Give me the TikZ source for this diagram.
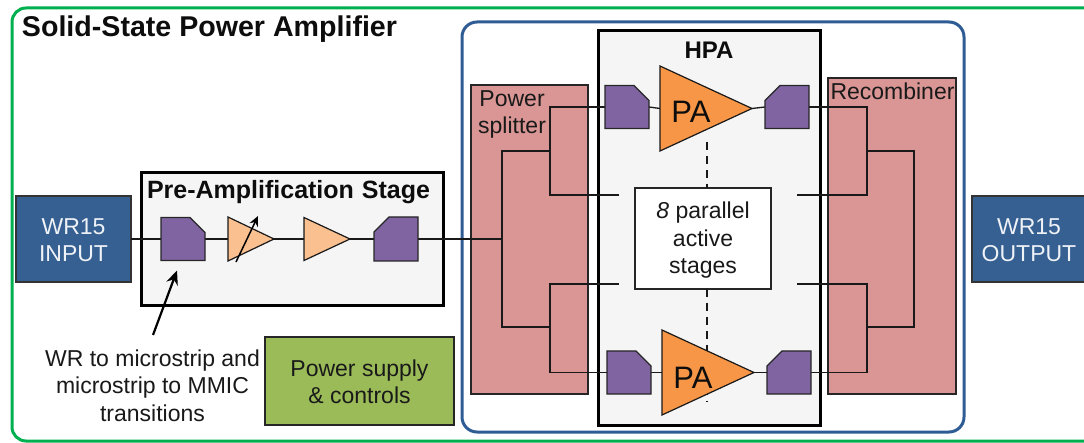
\documentclass[tikz,border=0pt]{standalone}
\usepackage{fontspec}
\setmainfont{Liberation Sans}
\usetikzlibrary{arrows.meta}
\definecolor{wgblue}{HTML}{366092}
\definecolor{framegreen}{HTML}{00B050}
\definecolor{frameblue}{HTML}{2F5C94}
\definecolor{panel}{HTML}{F5F5F5}
\definecolor{pinkbox}{HTML}{D99694}
\definecolor{purp}{HTML}{8064A2}
\definecolor{lightamp}{HTML}{FAC090}
\definecolor{paamp}{HTML}{F79646}
\definecolor{supply}{HTML}{9BBB59}
\tikzset{
  x=1pt,y=-1pt,
  sz/.style 2 args={minimum width=#1pt,minimum height=#2pt,inner sep=0pt,outer sep=0pt,anchor=center},
  wg/.style={draw=black!80,line width=1.2pt,fill=wgblue},
  wgtext/.style={inner sep=0pt,text=white!92!wgblue,align=center,font=\fontsize{23}{27}\selectfont},
  stage/.style={draw=black,line width=3pt,fill=panel},
  pinkb/.style={draw=black!85,line width=1.2pt,fill=pinkbox},
  trans/.style={draw=black!85,line width=1.2pt,fill=purp,line join=miter},
  amp/.style={draw=black!90,line width=1.2pt,line join=miter},
  wire/.style={draw=black!90,line width=1.3pt},
  dashwire/.style={wire,dash pattern=on 8pt off 6pt},
  lbl/.style={align=center,text=black!90,font=\fontsize{23}{27.5}\selectfont,inner sep=0pt},
  ghost/.style={inner sep=0pt,outer sep=0pt}
}
\newcommand{\place}[5]{\node[ghost,sz={#4}{#5}] (#1) at (#2,#3) {};}
\newcommand{\transR}[1]{% chamfer top right
  \draw[trans] (#1.north west) -- ([xshift=-15pt]#1.north east) -- ([yshift=-15pt]#1.north east) -- (#1.south east) -- (#1.south west) -- cycle;}
\newcommand{\transL}[1]{% chamfer top left
  \draw[trans] ([xshift=15pt]#1.north west) -- (#1.north east) -- (#1.south east) -- (#1.south west) -- ([yshift=-15pt]#1.north west) -- cycle;}
\newcommand{\ampl}[2]{\draw[amp,fill=#2] (#1.north west) -- (#1.east) -- (#1.south west) -- cycle;}
\begin{document}
\begin{tikzpicture}
\useasboundingbox (0,0) rectangle (1084,443);
\clip (0,0) rectangle (1084,443);
\fill[white] (0,0) rectangle (1084,443);
% outer frames
\coordinate (gtr) at (1090,8);
\coordinate (gbr) at (1090,441);
\draw[framegreen,line width=3pt,rounded corners=14pt] (gtr) -- (12,8) -- (12,441) -- (gbr);
\node[ghost,sz={502}{410},draw=frameblue,line width=3pt,rounded corners=15pt,fill=white] (sspa) at (713,227) {};
% boxes
\node[wg,sz={115}{86}] (in) at (73.5,239) {};
\node[wgtext] (intext) at (73.5,240) {WR15\\INPUT};
\node[wg,sz={114}{86}] (out) at (1029,239) {};
\node[wgtext] (outtext) at (1029,240) {WR15\\OUTPUT};
\node[stage,sz={302}{133}] (pre) at (292,239.5) {};
\node[ghost,anchor=center,font=\bfseries\fontsize{25}{28}\selectfont,text=black!95] (pretitle) at (288.5,192) {Pre-Amplification\hspace{1pt} Stage};
\node[draw=black!85,line width=1.2pt,fill=supply,sz={189}{88}] (ps) at (359.5,381) {};
\node[lbl] (pstext) at (359.5,382) {Power supply\\\& controls};
\node[lbl] (note) at (152.5,385.5) {WR to microstrip and\\microstrip to MMIC\\transitions};
\node[ghost,anchor=center,font=\bfseries\fontsize{28.6}{32}\selectfont,text=black!95] (title) at (209.5,29) {Solid-State Power Amplifier};
\node[pinkb,sz={117}{309}] (split) at (529.5,239.5) {};
\node[pinkb,sz={128}{316}] (rec) at (892,236) {};
\node[stage,sz={222}{394}] (hpa) at (709,228) {};
\node[ghost,font=\bfseries\fontsize{24}{28}\selectfont,text=black!95] (hpatitle) at (709,50) {HPA};
\node[lbl,anchor=north west] (splitlbl) at (478,90) {Power\\splitter};
\node[lbl,anchor=center,font=\fontsize{23}{27}\selectfont] (reclbl) at (892.5,91) {Recombiner};
\node[draw=black!85,line width=1.2pt,fill=white,sz={136}{101}] (par) at (703,238.5) {};
\node[lbl] (partext) at (703,240.5) {\textit{8} parallel\\active\\stages};
% junction coordinates
\coordinate (sm) at (502,239);
\coordinate (st) at (550,151);
\coordinate (sb) at (550,327);
\coordinate (sta) at (619,195);
\coordinate (sbb) at (619,284);
\coordinate (rm) at (867,151);
\coordinate (rb) at (867,327);
\coordinate (rta) at (797,195);
\coordinate (rbb) at (797,284);
\coordinate (rj) at (914,151);
\coordinate (dt) at (707,142);
\coordinate (db) at (707,402);
% component places
\place{tp1}{183}{239}{44}{43}
\place{tp2}{396}{239}{44}{44}
\place{v1}{251}{239}{46}{44}
\place{a2}{327}{239}{46}{43}
\place{t1}{627}{107}{44}{43}
\place{t2}{787}{107}{44}{43}
\place{t3}{629}{372.5}{44}{43}
\place{t4}{789}{372.5}{44}{43}
\place{pa1}{706}{108.5}{92}{85}
\place{pa2}{708}{372.5}{92}{85}
% wires
\draw[wire] (in.east) -- (tp1.west);
\draw[wire] (tp1.east) -- (v1.west);
\draw[wire] (v1.east) -- (a2.west);
\draw[wire] (a2.east) -- (tp2.west);
\draw[wire] (tp2.east) -- (sm);
\draw[wire] (sb) -- (502,327) -- (502,151) -- (st);
\draw[wire] (t1.west) -- (550,107) -- (550,195) -- (sta);
\draw[wire] (t3.west) -- (550,372.5) -- (550,284) -- (sbb);
\draw[wire] (t2.east) -- (867,107) -- (867,195) -- (rta);
\draw[wire] (t4.east) -- (867,372.5) -- (867,284) -- (rbb);
\draw[wire] (rm) -- (rj) -- (914,327) -- (rb);
\draw[dashwire] (dt) -- (par.north -| dt);
\draw[dashwire] (par.south -| db) -- (db);
\draw[wire] (t1.east) -- (pa1.west);
\draw[wire] (pa1.east) -- (t2.west);
\draw[wire] (t3.east) -- (pa2.west);
\draw[wire] (pa2.east) -- (t4.west);
% component shapes
\transR{tp1}
\transL{tp2}
\ampl{v1}{lightamp}
\ampl{a2}{lightamp}
\transR{t1}
\transL{t2}
\transR{t3}
\transL{t4}
\ampl{pa1}{paamp}
\ampl{pa2}{paamp}
\node[ghost,font=\fontsize{31}{34}\selectfont,text=black!95] (pa1t) at (691,112) {PA};
\node[ghost,font=\fontsize{31}{34}\selectfont,text=black!95] (pa2t) at (693,378) {PA};
% arrows
\coordinate (varfrom) at (236,262);
\coordinate (varto) at (258,216);
\draw[line width=1.5pt,-{Stealth[length=10pt,width=9pt]}] (varfrom) -- (varto);
\coordinate (notefrom) at (153,335);
\draw[line width=2.2pt,-{Stealth[length=14pt,width=12pt]}] (notefrom) -- ([xshift=-6pt,yshift=-10pt]tp1.south);
\end{tikzpicture}
\end{document}
